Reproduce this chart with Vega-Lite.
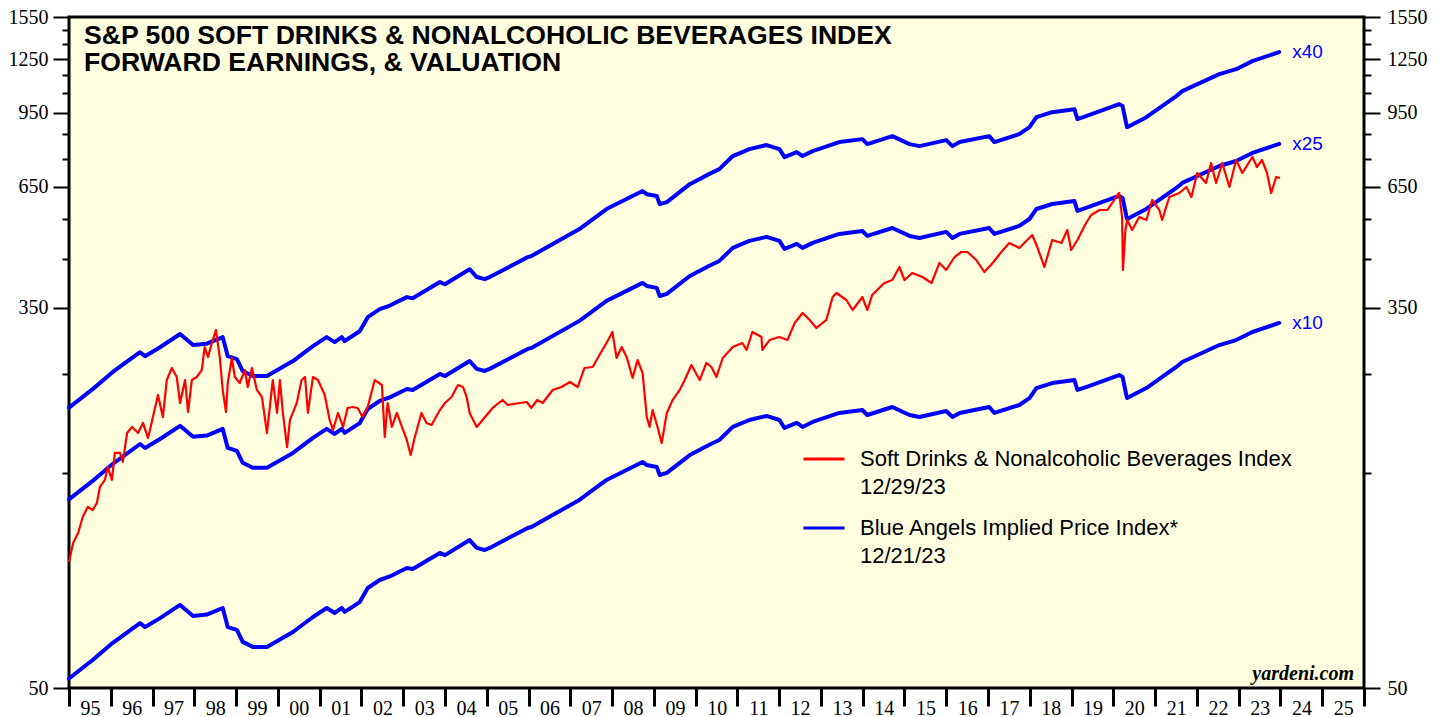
{
  "$schema": "https://vega.github.io/schema/vega-lite/v6.json",
  "width": 1295,
  "height": 671,
  "autosize": {"type": "none"},
  "padding": {"left": 69, "top": 17, "right": 82, "bottom": 29},
  "background": "white",
  "config": {
    "view": {"stroke": "black", "strokeWidth": 3, "fill": "#ffffe0"}
  },
  "title": {
    "text": ["S&P 500 SOFT DRINKS & NONALCOHOLIC BEVERAGES INDEX", "FORWARD EARNINGS, & VALUATION"],
    "anchor": "start",
    "frame": "group",
    "orient": "top",
    "baseline": "top",
    "offset": 0,
    "dx": 15,
    "dy": 70,
    "font": "Liberation Sans",
    "fontSize": 26.6,
    "fontWeight": "bold",
    "color": "black",
    "lineHeight": 27
  },
  "datasets": {
    "blue": [
      {"date": "1995-01-01", "x10": 52.5, "x25": 131.3, "x40": 210.0},
      {"date": "1995-07-27", "x10": 57.7, "x25": 144.3, "x40": 230.8},
      {"date": "1996-01-19", "x10": 63.0, "x25": 157.5, "x40": 252.0},
      {"date": "1996-09-13", "x10": 69.7, "x25": 174.3, "x40": 278.8},
      {"date": "1996-10-27", "x10": 68.3, "x25": 170.8, "x40": 273.2},
      {"date": "1997-03-07", "x10": 71.5, "x25": 178.8, "x40": 286.0},
      {"date": "1997-08-29", "x10": 76.5, "x25": 191.3, "x40": 306.0},
      {"date": "1997-12-21", "x10": 72.3, "x25": 180.8, "x40": 289.2},
      {"date": "1998-04-20", "x10": 72.8, "x25": 182.0, "x40": 291.2},
      {"date": "1998-09-06", "x10": 75.3, "x25": 188.3, "x40": 301.2},
      {"date": "1998-10-20", "x10": 68.3, "x25": 170.8, "x40": 273.2},
      {"date": "1999-01-08", "x10": 67.3, "x25": 168.3, "x40": 269.2},
      {"date": "1999-02-28", "x10": 63.3, "x25": 158.3, "x40": 253.2},
      {"date": "1999-05-27", "x10": 61.7, "x25": 154.3, "x40": 246.8},
      {"date": "1999-09-28", "x10": 61.7, "x25": 154.3, "x40": 246.8},
      {"date": "2000-05-12", "x10": 66.6, "x25": 166.5, "x40": 266.4},
      {"date": "2000-11-03", "x10": 71.9, "x25": 179.8, "x40": 287.6},
      {"date": "2001-03-03", "x10": 75.3, "x25": 188.3, "x40": 301.2},
      {"date": "2001-05-12", "x10": 73.4, "x25": 183.5, "x40": 293.6},
      {"date": "2001-07-13", "x10": 75.3, "x25": 188.3, "x40": 301.2},
      {"date": "2001-08-07", "x10": 73.8, "x25": 184.5, "x40": 295.2},
      {"date": "2001-12-17", "x10": 77.6, "x25": 194.0, "x40": 310.4},
      {"date": "2002-02-25", "x10": 83.4, "x25": 208.5, "x40": 333.6},
      {"date": "2002-06-10", "x10": 86.9, "x25": 217.3, "x40": 347.6},
      {"date": "2002-09-06", "x10": 88.5, "x25": 221.3, "x40": 354.0},
      {"date": "2003-02-02", "x10": 92.4, "x25": 231.0, "x40": 369.6},
      {"date": "2003-03-25", "x10": 91.9, "x25": 229.8, "x40": 367.6},
      {"date": "2003-11-18", "x10": 99.8, "x25": 249.5, "x40": 399.2},
      {"date": "2004-01-01", "x10": 98.7, "x25": 246.8, "x40": 394.8},
      {"date": "2004-08-04", "x10": 106.6, "x25": 266.5, "x40": 426.4},
      {"date": "2004-10-05", "x10": 102.4, "x25": 256.0, "x40": 409.6},
      {"date": "2004-12-14", "x10": 101.3, "x25": 253.3, "x40": 405.2},
      {"date": "2005-01-26", "x10": 102.4, "x25": 256.0, "x40": 409.6},
      {"date": "2005-12-25", "x10": 113.4, "x25": 283.5, "x40": 453.6},
      {"date": "2006-01-26", "x10": 114.0, "x25": 285.0, "x40": 456.0},
      {"date": "2007-03-22", "x10": 130.9, "x25": 327.3, "x40": 523.6},
      {"date": "2007-11-14", "x10": 145.0, "x25": 362.5, "x40": 580.0},
      {"date": "2008-09-24", "x10": 159.0, "x25": 397.5, "x40": 636.0},
      {"date": "2008-10-31", "x10": 156.5, "x25": 391.3, "x40": 626.0},
      {"date": "2009-01-26", "x10": 155.0, "x25": 387.5, "x40": 620.0},
      {"date": "2009-02-21", "x10": 148.7, "x25": 371.8, "x40": 594.8},
      {"date": "2009-04-24", "x10": 150.3, "x25": 375.8, "x40": 601.2},
      {"date": "2009-11-11", "x10": 164.7, "x25": 411.8, "x40": 658.8},
      {"date": "2010-04-27", "x10": 173.4, "x25": 433.5, "x40": 693.6},
      {"date": "2010-07-27", "x10": 177.9, "x25": 444.8, "x40": 711.6},
      {"date": "2010-11-22", "x10": 190.2, "x25": 475.5, "x40": 760.8},
      {"date": "2011-04-16", "x10": 197.1, "x25": 492.8, "x40": 788.4},
      {"date": "2011-09-13", "x10": 201.2, "x25": 503.0, "x40": 804.8},
      {"date": "2012-01-04", "x10": 197.1, "x25": 492.8, "x40": 788.4},
      {"date": "2012-02-17", "x10": 189.2, "x25": 473.0, "x40": 756.8},
      {"date": "2012-06-03", "x10": 194.1, "x25": 485.3, "x40": 776.4},
      {"date": "2012-07-24", "x10": 190.2, "x25": 475.5, "x40": 760.8},
      {"date": "2012-10-20", "x10": 195.1, "x25": 487.8, "x40": 780.4},
      {"date": "2013-06-10", "x10": 204.3, "x25": 510.8, "x40": 817.2},
      {"date": "2013-12-29", "x10": 207.4, "x25": 518.5, "x40": 829.6},
      {"date": "2014-02-10", "x10": 202.2, "x25": 505.5, "x40": 808.8},
      {"date": "2014-09-17", "x10": 210.6, "x25": 526.5, "x40": 842.4},
      {"date": "2015-02-14", "x10": 202.2, "x25": 505.5, "x40": 808.8},
      {"date": "2015-05-12", "x10": 200.1, "x25": 500.3, "x40": 800.4},
      {"date": "2016-01-01", "x10": 206.4, "x25": 516.0, "x40": 825.6},
      {"date": "2016-02-25", "x10": 200.1, "x25": 500.3, "x40": 800.4},
      {"date": "2016-04-27", "x10": 204.3, "x25": 510.8, "x40": 817.2},
      {"date": "2017-01-11", "x10": 210.6, "x25": 526.5, "x40": 842.4},
      {"date": "2017-02-25", "x10": 204.3, "x25": 510.8, "x40": 817.2},
      {"date": "2017-10-01", "x10": 212.8, "x25": 532.0, "x40": 851.2},
      {"date": "2017-12-29", "x10": 220.5, "x25": 551.3, "x40": 882.0},
      {"date": "2018-02-28", "x10": 232.1, "x25": 580.3, "x40": 928.4},
      {"date": "2018-07-16", "x10": 238.1, "x25": 595.3, "x40": 952.4},
      {"date": "2019-01-26", "x10": 241.8, "x25": 604.5, "x40": 967.2},
      {"date": "2019-02-21", "x10": 229.8, "x25": 574.5, "x40": 919.2},
      {"date": "2019-05-08", "x10": 233.3, "x25": 583.3, "x40": 933.2},
      {"date": "2020-02-21", "x10": 248.1, "x25": 620.3, "x40": 992.4},
      {"date": "2020-03-22", "x10": 245.6, "x25": 614.0, "x40": 982.4},
      {"date": "2020-04-24", "x10": 224.0, "x25": 560.0, "x40": 896.0},
      {"date": "2020-05-01", "x10": 220.5, "x25": 551.3, "x40": 882.0},
      {"date": "2020-10-16", "x10": 232.1, "x25": 580.3, "x40": 928.4},
      {"date": "2021-07-05", "x10": 258.5, "x25": 646.3, "x40": 1034.0},
      {"date": "2021-08-26", "x10": 265.2, "x25": 663.0, "x40": 1060.8},
      {"date": "2022-07-16", "x10": 289.2, "x25": 723.0, "x40": 1156.8},
      {"date": "2022-12-10", "x10": 296.7, "x25": 741.8, "x40": 1186.8},
      {"date": "2023-05-01", "x10": 309.2, "x25": 773.0, "x40": 1236.8},
      {"date": "2023-12-21", "x10": 323.8, "x25": 809.5, "x40": 1295.2}
    ],
    "red": [
      {"date": "1995-01-01", "value": 95.3},
      {"date": "1995-02-06", "value": 105.0},
      {"date": "1995-03-22", "value": 110.5},
      {"date": "1995-05-01", "value": 120.0},
      {"date": "1995-06-14", "value": 126.3},
      {"date": "1995-07-27", "value": 124.3},
      {"date": "1995-09-02", "value": 128.9},
      {"date": "1995-09-28", "value": 139.9},
      {"date": "1995-11-11", "value": 145.0},
      {"date": "1995-12-06", "value": 154.9},
      {"date": "1996-01-11", "value": 145.0},
      {"date": "1996-02-06", "value": 166.5},
      {"date": "1996-03-22", "value": 166.5},
      {"date": "1996-04-16", "value": 159.0},
      {"date": "1996-05-23", "value": 184.4},
      {"date": "1996-07-05", "value": 190.2},
      {"date": "1996-08-26", "value": 184.4},
      {"date": "1996-10-09", "value": 194.1},
      {"date": "1996-11-22", "value": 179.7},
      {"date": "1997-01-04", "value": 200.1},
      {"date": "1997-02-17", "value": 224.0},
      {"date": "1997-04-01", "value": 200.1},
      {"date": "1997-05-05", "value": 241.8},
      {"date": "1997-06-18", "value": 257.2},
      {"date": "1997-07-31", "value": 245.6},
      {"date": "1997-08-29", "value": 215.0},
      {"date": "1997-10-12", "value": 241.8},
      {"date": "1997-11-07", "value": 205.3},
      {"date": "1997-12-10", "value": 241.8},
      {"date": "1998-01-22", "value": 245.6},
      {"date": "1998-03-07", "value": 254.5},
      {"date": "1998-04-01", "value": 286.3},
      {"date": "1998-05-01", "value": 272.0},
      {"date": "1998-06-03", "value": 292.2},
      {"date": "1998-07-09", "value": 312.4},
      {"date": "1998-08-11", "value": 272.0},
      {"date": "1998-09-06", "value": 229.8},
      {"date": "1998-10-05", "value": 205.3},
      {"date": "1998-10-20", "value": 238.1},
      {"date": "1998-11-25", "value": 270.7},
      {"date": "1998-12-21", "value": 245.6},
      {"date": "1999-02-02", "value": 238.1},
      {"date": "1999-03-18", "value": 254.5},
      {"date": "1999-04-13", "value": 233.3},
      {"date": "1999-05-19", "value": 257.2},
      {"date": "1999-07-02", "value": 229.8},
      {"date": "1999-08-15", "value": 221.7},
      {"date": "1999-09-28", "value": 184.4},
      {"date": "1999-10-23", "value": 210.6},
      {"date": "1999-11-18", "value": 241.8},
      {"date": "1999-12-25", "value": 204.3},
      {"date": "2000-01-19", "value": 241.8},
      {"date": "2000-02-14", "value": 204.3},
      {"date": "2000-03-22", "value": 171.6},
      {"date": "2000-04-16", "value": 197.1},
      {"date": "2000-06-14", "value": 215.0},
      {"date": "2000-07-27", "value": 241.8},
      {"date": "2000-08-26", "value": 245.6},
      {"date": "2000-09-20", "value": 204.3},
      {"date": "2000-11-03", "value": 245.6},
      {"date": "2000-12-17", "value": 241.8},
      {"date": "2001-02-14", "value": 224.0},
      {"date": "2001-03-29", "value": 197.1},
      {"date": "2001-04-27", "value": 187.3},
      {"date": "2001-06-10", "value": 204.3},
      {"date": "2001-07-24", "value": 190.2},
      {"date": "2001-09-02", "value": 209.6},
      {"date": "2001-10-16", "value": 210.6},
      {"date": "2001-11-29", "value": 209.6},
      {"date": "2002-01-11", "value": 200.1},
      {"date": "2002-02-25", "value": 210.6},
      {"date": "2002-04-27", "value": 241.8},
      {"date": "2002-06-29", "value": 235.7},
      {"date": "2002-07-24", "value": 180.6},
      {"date": "2002-08-18", "value": 215.0},
      {"date": "2002-09-24", "value": 190.2},
      {"date": "2002-11-07", "value": 204.3},
      {"date": "2002-12-21", "value": 190.2},
      {"date": "2003-02-02", "value": 177.9},
      {"date": "2003-03-07", "value": 164.7},
      {"date": "2003-04-13", "value": 180.6},
      {"date": "2003-06-10", "value": 204.3},
      {"date": "2003-07-24", "value": 194.1},
      {"date": "2003-09-06", "value": 192.1},
      {"date": "2003-11-18", "value": 207.4},
      {"date": "2004-01-01", "value": 215.0},
      {"date": "2004-02-28", "value": 221.7},
      {"date": "2004-04-24", "value": 235.7},
      {"date": "2004-06-07", "value": 233.3},
      {"date": "2004-07-09", "value": 221.7},
      {"date": "2004-08-04", "value": 204.3},
      {"date": "2004-10-05", "value": 190.2},
      {"date": "2004-11-25", "value": 197.1},
      {"date": "2005-02-21", "value": 209.6},
      {"date": "2005-05-19", "value": 218.3},
      {"date": "2005-07-02", "value": 212.8},
      {"date": "2005-10-16", "value": 215.0},
      {"date": "2005-12-17", "value": 216.1},
      {"date": "2006-01-26", "value": 209.6},
      {"date": "2006-03-18", "value": 218.3},
      {"date": "2006-05-05", "value": 215.0},
      {"date": "2006-07-31", "value": 229.8},
      {"date": "2006-10-16", "value": 233.3},
      {"date": "2006-12-29", "value": 239.4},
      {"date": "2007-03-07", "value": 233.3},
      {"date": "2007-05-05", "value": 257.2},
      {"date": "2007-07-16", "value": 258.5},
      {"date": "2007-09-13", "value": 274.8},
      {"date": "2007-11-14", "value": 292.2},
      {"date": "2008-01-04", "value": 309.2},
      {"date": "2008-02-10", "value": 270.7},
      {"date": "2008-03-25", "value": 286.3},
      {"date": "2008-05-08", "value": 272.0},
      {"date": "2008-06-29", "value": 244.4},
      {"date": "2008-08-11", "value": 267.9},
      {"date": "2008-09-24", "value": 250.7},
      {"date": "2008-10-31", "value": 200.1},
      {"date": "2008-11-25", "value": 190.2},
      {"date": "2008-12-21", "value": 207.4},
      {"date": "2009-02-02", "value": 190.2},
      {"date": "2009-03-10", "value": 175.2},
      {"date": "2009-04-24", "value": 204.3},
      {"date": "2009-06-14", "value": 218.3},
      {"date": "2009-08-15", "value": 229.8},
      {"date": "2009-09-28", "value": 241.8},
      {"date": "2009-11-25", "value": 261.2},
      {"date": "2010-02-06", "value": 241.8},
      {"date": "2010-04-05", "value": 263.9},
      {"date": "2010-05-19", "value": 258.5},
      {"date": "2010-07-02", "value": 245.6},
      {"date": "2010-08-26", "value": 270.7},
      {"date": "2010-11-22", "value": 286.3},
      {"date": "2011-02-14", "value": 292.2},
      {"date": "2011-03-22", "value": 282.0},
      {"date": "2011-05-12", "value": 309.2},
      {"date": "2011-07-31", "value": 301.4},
      {"date": "2011-08-07", "value": 282.0},
      {"date": "2011-10-09", "value": 296.7},
      {"date": "2012-01-04", "value": 301.4},
      {"date": "2012-03-14", "value": 296.7},
      {"date": "2012-05-16", "value": 323.8},
      {"date": "2012-07-24", "value": 340.8},
      {"date": "2012-09-24", "value": 328.8},
      {"date": "2012-11-22", "value": 315.6},
      {"date": "2013-02-17", "value": 328.8},
      {"date": "2013-04-13", "value": 369.8},
      {"date": "2013-05-16", "value": 377.5},
      {"date": "2013-08-11", "value": 364.2},
      {"date": "2013-10-05", "value": 346.0},
      {"date": "2013-12-29", "value": 369.8},
      {"date": "2014-02-10", "value": 346.0},
      {"date": "2014-03-25", "value": 373.6},
      {"date": "2014-07-09", "value": 397.3},
      {"date": "2014-09-17", "value": 403.4},
      {"date": "2014-11-18", "value": 431.2},
      {"date": "2015-01-01", "value": 403.4},
      {"date": "2015-03-10", "value": 418.2},
      {"date": "2015-06-07", "value": 409.7},
      {"date": "2015-08-26", "value": 397.3},
      {"date": "2015-11-03", "value": 440.2},
      {"date": "2016-01-01", "value": 424.6},
      {"date": "2016-03-14", "value": 453.8},
      {"date": "2016-05-12", "value": 465.6},
      {"date": "2016-07-05", "value": 465.6},
      {"date": "2016-09-20", "value": 446.9},
      {"date": "2016-11-29", "value": 420.3},
      {"date": "2017-02-10", "value": 440.2},
      {"date": "2017-04-27", "value": 465.6},
      {"date": "2017-07-05", "value": 487.5},
      {"date": "2017-10-01", "value": 475.3},
      {"date": "2017-12-10", "value": 495.1},
      {"date": "2018-01-22", "value": 507.9},
      {"date": "2018-03-07", "value": 477.7},
      {"date": "2018-05-08", "value": 431.2},
      {"date": "2018-07-16", "value": 495.1},
      {"date": "2018-10-05", "value": 487.5},
      {"date": "2018-11-25", "value": 521.1},
      {"date": "2018-12-29", "value": 470.4},
      {"date": "2019-02-21", "value": 495.1},
      {"date": "2019-05-08", "value": 540.1},
      {"date": "2019-06-22", "value": 562.7},
      {"date": "2019-09-02", "value": 577.3},
      {"date": "2019-11-11", "value": 577.3},
      {"date": "2020-01-26", "value": 617.0},
      {"date": "2020-02-21", "value": 629.8},
      {"date": "2020-03-18", "value": 556.9},
      {"date": "2020-03-25", "value": 424.6},
      {"date": "2020-04-16", "value": 521.1},
      {"date": "2020-05-01", "value": 548.5},
      {"date": "2020-06-14", "value": 521.1},
      {"date": "2020-08-15", "value": 556.9},
      {"date": "2020-10-16", "value": 548.5},
      {"date": "2020-12-06", "value": 607.6},
      {"date": "2021-02-06", "value": 577.3},
      {"date": "2021-03-03", "value": 548.5},
      {"date": "2021-05-05", "value": 617.0},
      {"date": "2021-07-31", "value": 629.8},
      {"date": "2021-10-01", "value": 649.4},
      {"date": "2021-11-14", "value": 617.0},
      {"date": "2022-01-04", "value": 697.6},
      {"date": "2022-03-22", "value": 662.8},
      {"date": "2022-05-05", "value": 734.3},
      {"date": "2022-06-18", "value": 662.8},
      {"date": "2022-08-11", "value": 734.3},
      {"date": "2022-10-12", "value": 649.4},
      {"date": "2022-12-10", "value": 745.6},
      {"date": "2023-02-02", "value": 697.6},
      {"date": "2023-05-01", "value": 757.2},
      {"date": "2023-06-10", "value": 719.3},
      {"date": "2023-07-24", "value": 745.6},
      {"date": "2023-09-06", "value": 697.6},
      {"date": "2023-10-12", "value": 629.8},
      {"date": "2023-11-25", "value": 683.5},
      {"date": "2023-12-29", "value": 680.0}
    ],
    "endLabels": [
      {"date": "2023-12-21", "value": 1295.2, "label": "x40"},
      {"date": "2023-12-21", "value": 809.5, "label": "x25"},
      {"date": "2023-12-21", "value": 323.8, "label": "x10"}
    ],
    "credit": [
      {"date": "2026-01-01", "value": 52.1, "label": "yardeni.com"}
    ]
  },
  "layer": [
    {
      "data": {"name": "blue"},
      "transform": [{"fold": ["x10", "x25", "x40"], "as": ["mult", "value"]}],
      "mark": {"type": "line", "strokeWidth": 4, "strokeJoin": "round", "strokeCap": "round"},
      "encoding": {
        "x": {
          "field": "date", "type": "temporal",
          "scale": {"type": "utc", "domain": ["1995-01-01", "2026-01-01"]},
          "axis": {
            "title": null, "domain": false, "grid": false,
            "tickCount": {"interval": "year", "step": 1},
            "labelExpr": "utcyear(datum.value) >= 2026 ? '' : utcFormat(datum.value, '%y')",
            "tickSize": 18, "tickWidth": 3, "tickColor": "black",
            "labelOffset": 21, "labelAlign": "center", "labelBaseline": "alphabetic", "labelPadding": 8,
            "labelFont": "Liberation Serif", "labelFontSize": 20, "labelColor": "black",
            "labelFlush": false, "labelOverlap": false, "labelBound": false
          }
        },
        "y": {
          "field": "value", "type": "quantitative",
          "scale": {"type": "log", "domain": [50, 1550], "nice": false, "zero": false},
          "axis": {
            "orient": "left", "title": null, "domain": false, "grid": false,
            "values": [50, 150, 250, 350, 450, 550, 650, 750, 850, 950, 1050, 1150, 1250, 1350, 1450, 1550],
            "labelExpr": "(datum.value - 50) % 300 == 0 ? format(datum.value, 'd') : ''",
            "tickSize": {"condition": {"test": "(datum.value - 50) % 300 == 0", "value": 16}, "value": 7},
            "tickWidth": 2, "tickColor": "black",
            "labelPadding": 5,
            "labelFont": "Liberation Serif", "labelFontSize": 20, "labelColor": "black",
            "labelFlush": false, "labelOverlap": false, "labelBound": false
          }
        },
        "detail": {"field": "mult"},
        "color": {
          "datum": "Blue Angels Implied Price Index*|12/21/23",
          "scale": {
            "domain": ["Soft Drinks & Nonalcoholic Beverages Index|12/29/23", "Blue Angels Implied Price Index*|12/21/23"],
            "range": ["#ff0000", "#0000ff"]
          },
          "legend": {
            "orient": "none", "legendX": 733, "legendY": 420, "title": null,
            "symbolType": "stroke", "symbolSize": 1681, "symbolStrokeWidth": 3,
            "labelFont": "Liberation Sans", "labelFontSize": 22, "labelColor": "black",
            "labelExpr": "split(datum.label, '|')", "labelLimit": 800, "labelOffset": 14,
            "rowPadding": 8, "padding": 0,
            "encode": {"labels": {"update": {"lineHeight": {"value": 28}}}}
          }
        }
      }
    },
    {
      "data": {"name": "red"},
      "mark": {"type": "line", "strokeWidth": 2.2, "strokeJoin": "round"},
      "encoding": {
        "x": {"field": "date", "type": "temporal", "scale": {"type": "utc", "domain": ["1995-01-01", "2026-01-01"]}},
        "y": {
          "field": "value", "type": "quantitative",
          "scale": {"type": "log", "domain": [50, 1550], "nice": false, "zero": false},
          "axis": {
            "orient": "right", "title": null, "domain": false, "grid": false,
            "values": [50, 150, 250, 350, 450, 550, 650, 750, 850, 950, 1050, 1150, 1250, 1350, 1450, 1550],
            "labelExpr": "(datum.value - 50) % 300 == 0 ? format(datum.value, 'd') : ''",
            "tickSize": {"condition": {"test": "(datum.value - 50) % 300 == 0", "value": 16}, "value": 7},
            "tickWidth": 2, "tickColor": "black",
            "labelPadding": 7,
            "labelFont": "Liberation Serif", "labelFontSize": 20, "labelColor": "black",
            "labelFlush": false, "labelOverlap": false, "labelBound": false
          }
        },
        "color": {"datum": "Soft Drinks & Nonalcoholic Beverages Index|12/29/23"}
      }
    },
    {
      "data": {"name": "endLabels"},
      "mark": {"type": "text", "align": "left", "baseline": "middle", "dx": 13, "font": "Liberation Sans", "fontSize": 19, "color": "#0000ff"},
      "encoding": {
        "x": {"field": "date", "type": "temporal"},
        "y": {"field": "value", "type": "quantitative", "axis": null},
        "text": {"field": "label"}
      }
    },
    {
      "data": {"name": "credit"},
      "mark": {"type": "text", "align": "right", "baseline": "alphabetic", "dx": -10, "font": "Liberation Serif", "fontSize": 20, "fontWeight": "bold", "fontStyle": "italic", "color": "black"},
      "encoding": {
        "x": {"field": "date", "type": "temporal"},
        "y": {"field": "value", "type": "quantitative", "axis": null},
        "text": {"field": "label"}
      }
    }
  ],
  "resolve": {"axis": {"y": "independent"}}
}
